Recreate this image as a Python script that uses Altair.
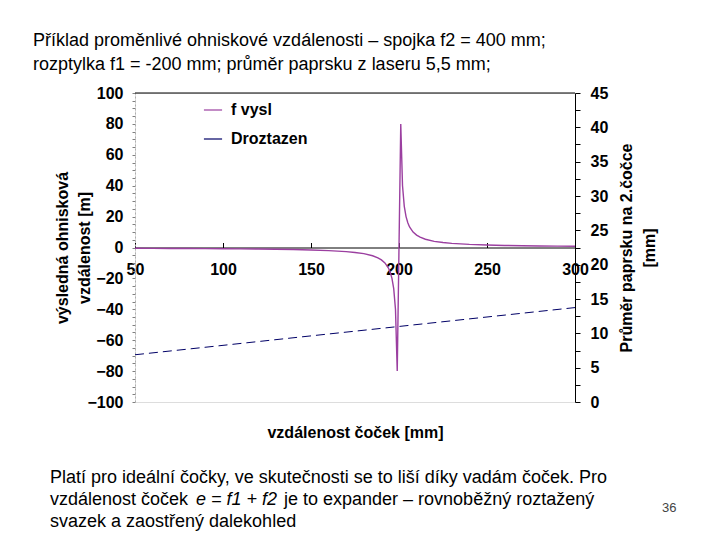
import altair as alt
import pandas as pd

# ---- data ----
dist_f = [50, 60, 70, 80, 90, 100, 110, 120, 130, 140, 150, 160, 170, 175, 180, 185, 188, 190,
          192, 194, 195, 196, 197, 198, 199, 201, 202, 203, 204, 205, 206, 208, 210, 212, 215,
          220, 225, 230, 240, 250, 260, 270, 280, 290, 300]
f_vysl = [-0.53, -0.57, -0.62, -0.67, -0.73, -0.8, -0.89, -1.0, -1.14, -1.33, -1.6, -2.0, -2.67,
          -3.2, -4.0, -5.33, -6.67, -8.0, -10.0, -13.33, -16.0, -20.0, -26.67, -40.0, -80.0,
          80.0, 40.0, 26.67, 20.0, 16.0, 13.33, 10.0, 8.0, 6.67, 5.33, 4.0, 3.2, 2.67, 2.0, 1.6,
          1.33, 1.14, 1.0, 0.89, 0.8]
dist_d = [50, 100, 150, 200, 250, 300]
d_roztazen = [6.88, 8.25, 9.63, 11.0, 12.38, 13.75]

series_names = ["f vysl", "Droztazen"]
series_colors = ["#9B3FA0", "#000066"]

x_ticks = [50, 100, 150, 200, 250, 300]
left_ticks = list(range(-100, 101, 5))
right_ticks = [i * 2.5 for i in range(19)]

header1 = "Příklad proměnlivé ohniskové vzdálenosti – spojka f2 = 400 mm;"
header2 = "rozptylka f1 = -200 mm; průměr paprsku z laseru 5,5 mm;"
foot1 = "Platí pro ideální čočky, ve skutečnosti se to liší díky vadám čoček. Pro"
foot2a = "vzdálenost čoček"
foot2b = "e = f1 + f2"
foot2c = "je to expander – rovnoběžný roztažený"
foot3 = "svazek a zaostřený dalekohled"
page_no = "36"

FONT = "Liberation Sans"
W, H = 440, 309

df_f = pd.DataFrame({"d": dist_f, "v": f_vysl, "s": series_names[0]})
df_d = pd.DataFrame({"d": dist_d, "v": d_roztazen, "s": series_names[1]})
one = pd.DataFrame({"a": [0]})

xscale = alt.Scale(domain=[50, 300], nice=False, zero=False)
color = alt.Color("s:N", scale=alt.Scale(domain=series_names, range=series_colors),
                  legend=alt.Legend(title=None, orient="none", legendX=68, legendY=7,
                                    symbolType="stroke", symbolSize=330, symbolStrokeWidth=1.2,
                                    labelFont=FONT, labelFontSize=16, labelFontWeight="bold",
                                    labelColor="black", rowPadding=11, labelOffset=8,
                                    fillColor="white"))

xaxis = alt.Axis(orient="top", offset=-154.5, values=x_ticks, tickSize=5, tickColor="black",
                 domainColor="black", labelFont=FONT, labelFontSize=16, labelFontWeight="bold",
                 labelColor="black", labelBaseline="top", labelPadding=-19, labelFlush=False,
                 labelAngle=0, grid=False, title="vzdálenost čoček [mm]", titleFont=FONT,
                 titleFontSize=16, titleFontWeight="bold", titleColor="black",
                 titleY=185, titleBaseline="middle")

left_axis = alt.Axis(orient="left", values=left_ticks,
                     labelExpr="datum.value % 20 === 0 ? datum.label : ''",
                     domainColor="#b0b0b0", domainDash=[2, 2], tickColor="#808080", tickSize=3,
                     labelFont=FONT, labelFontSize=16, labelFontWeight="bold", labelColor="black",
                     labelPadding=9, labelOverlap=False, grid=False,
                     title=["výsledná ohnisková", "vzdálenost [m]"], titleFont=FONT,
                     titleFontSize=16, titleFontWeight="bold", titleColor="black",
                     titleAngle=270, titlePadding=-6, titleLineHeight=22)

right_axis = alt.Axis(orient="right", values=right_ticks,
                      labelExpr="datum.value % 5 === 0 ? datum.label : ''",
                      domainColor="black", tickColor="black", tickSize=5,
                      labelFont=FONT, labelFontSize=16, labelFontWeight="bold", labelColor="black",
                      labelPadding=10, labelOverlap=False, grid=False,
                      title=["Průměr paprsku na 2.čočce", "[mm]"], titleFont=FONT,
                      titleFontSize=16, titleFontWeight="bold", titleColor="black",
                      titleAngle=270, titlePadding=4, titleLineHeight=23)

f_line = alt.Chart(df_f).mark_line(strokeWidth=1.4, interpolate="linear").encode(
    x=alt.X("d:Q", scale=xscale, axis=xaxis),
    y=alt.Y("v:Q", scale=alt.Scale(domain=[-100, 100], nice=False), axis=left_axis),
    color=color,
)

d_line = alt.Chart(df_d).mark_line(strokeWidth=1, strokeDash=[9, 5]).encode(
    x=alt.X("d:Q", scale=xscale),
    y=alt.Y("v:Q", scale=alt.Scale(domain=[0, 45], nice=False), axis=right_axis),
    color=color,
)

top_rule = alt.Chart(one).mark_rule(color="black", strokeWidth=1).encode(
    x=alt.value(0), x2=alt.value(W), y=alt.value(0))


def txt(t, x, y, size=18, style="normal", color="black"):
    return alt.Chart(one).mark_text(text=t, align="left", baseline="alphabetic", font=FONT,
                                    fontSize=size, fontStyle=style, color=color).encode(
        x=alt.value(x), y=alt.value(y))


texts = [
    txt(header1, -102, -47),
    txt(header2, -102, -23),
    txt(foot1, -85, 390),
    txt(foot2a, -85, 412),
    txt(foot2b, 61, 412, style="italic"),
    txt(foot2c, 149, 412),
    txt(foot3, -85, 434),
    txt(page_no, 527, 419, size=13, color="#444444"),
]

chart = alt.layer(f_line, d_line, top_rule, *texts).resolve_scale(y="independent").properties(
    width=W, height=H,
    autosize=alt.AutoSizeParams(type="none"),
    padding={"left": 127, "top": 85, "right": 137, "bottom": 130},
).configure_view(stroke=None).configure(background="white")

chart.save("out.html", embed_options={"renderer": "svg", "actions": False})
